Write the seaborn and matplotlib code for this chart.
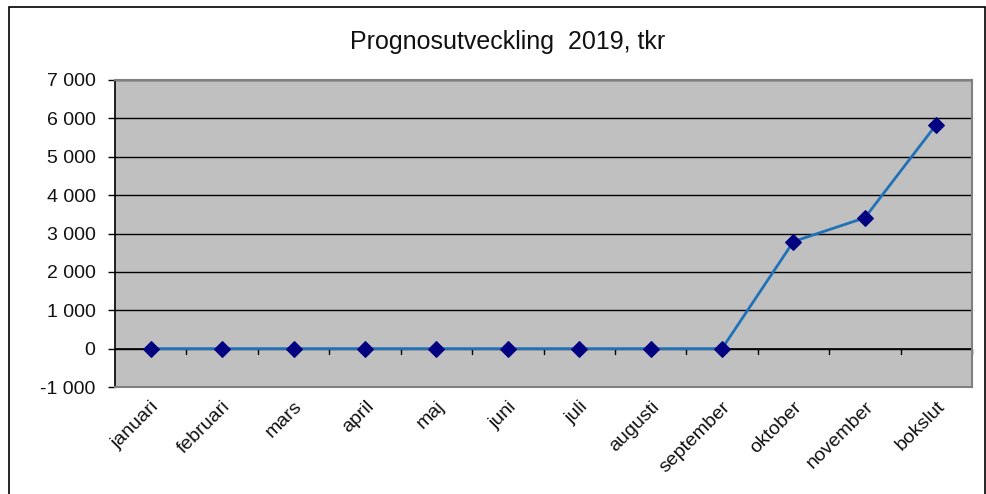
import matplotlib
matplotlib.use('Agg')
import matplotlib.pyplot as plt
import matplotlib.patches as patches
from matplotlib.ticker import FuncFormatter, MultipleLocator
import pandas as pd
import seaborn as sns

# Chart data
months = ['januari', 'februari', 'mars', 'april', 'maj', 'juni', 'juli',
          'augusti', 'september', 'oktober', 'november', 'bokslut']
forecast = [0, 0, 0, 0, 0, 0, 0, 0, 0, 2790, 3410, 5840]

df = pd.DataFrame({'month': months, 'value': forecast})
df['pos'] = range(len(df))

sns.set_style('white')
plt.rcParams['font.family'] = ['Liberation Sans', 'DejaVu Sans']

fig = plt.figure(figsize=(9.87, 4.94), dpi=100)
ax = fig.add_axes([115 / 987, 1 - 387 / 494, 857 / 987, 307 / 494])

# Outer chart border
fig.patches.append(patches.Rectangle((9 / 987, -0.05), 976 / 987, 1 - 7 / 494 + 0.05,
                                     transform=fig.transFigure, fill=False,
                                     edgecolor='black', linewidth=1.2))

ax.set_facecolor('#c0c0c0')
for s in ['top', 'right', 'bottom']:
    ax.spines[s].set_color('#808080')
    ax.spines[s].set_linewidth(1.5)
ax.spines['left'].set_color('black')
ax.spines['left'].set_linewidth(1.2)

ax.set_ylim(-1000, 7000)
ax.set_xlim(-0.5, len(months) - 0.5)
ax.yaxis.set_major_locator(MultipleLocator(1000))
ax.yaxis.set_major_formatter(FuncFormatter(lambda v, p: f'{int(v):,}'.replace(',', ' ')))
ax.grid(axis='y', color='black', linewidth=1)
ax.set_axisbelow(True)
ax.tick_params(axis='y', direction='out', length=5, width=1, color='black',
               labelsize=14, pad=9, left=True, labelcolor='#111111')

# category axis crossing at zero
ax.axhline(0, color='black', linewidth=1.2, zorder=2)
for b in range(len(months)):
    ax.plot([b + 0.5, b + 0.5], [0, -130], color='black', linewidth=1, zorder=2,
            clip_on=False)

ax.set_xticks(df['pos'])
ax.set_xticklabels(months, rotation=45, ha='right', rotation_mode='anchor',
                   fontsize=14, color='#111111')
ax.tick_params(axis='x', length=0, pad=8)

sns.lineplot(data=df, x='pos', y='value', ax=ax, color='#1f72b8', linewidth=2,
             marker='D', markersize=8, markerfacecolor='#000080',
             markeredgecolor='#000080', zorder=3)
ax.set_xlabel('')
ax.set_ylabel('')

fig.text(508 / 987, 1 - 42 / 494, 'Prognosutveckling  2019, tkr', ha='center',
         va='center', fontsize=18, color='#111111')

fig.savefig('out.png', dpi=100)
